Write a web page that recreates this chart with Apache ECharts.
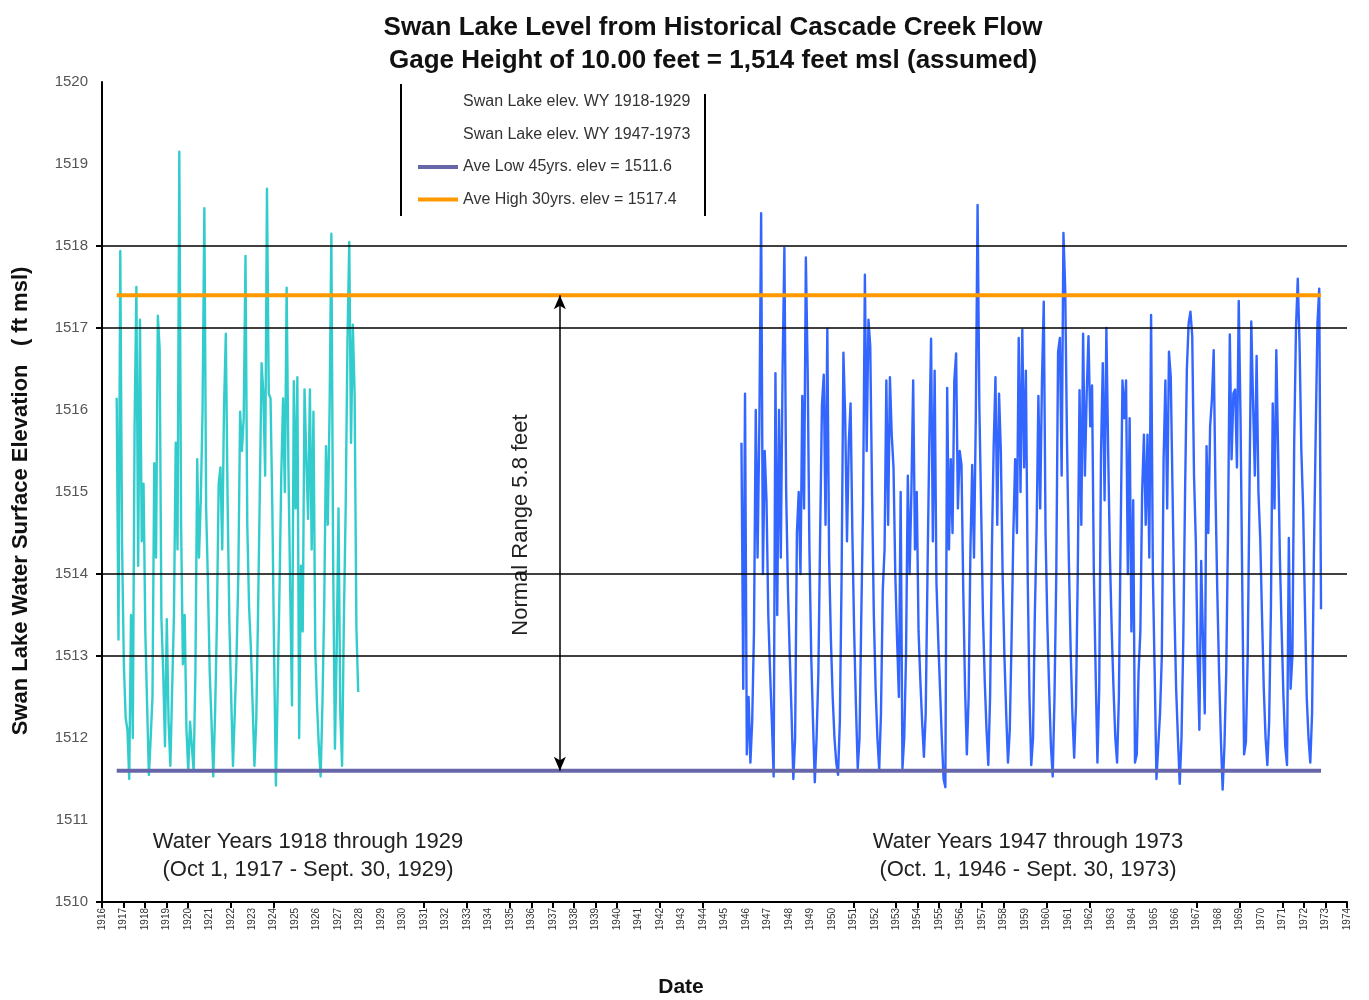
<!DOCTYPE html>
<html>
<head>
<meta charset="utf-8">
<title>Swan Lake Level</title>
<script src="https://cdn.jsdelivr.net/npm/echarts@6/dist/echarts.min.js"></script>
<style>
  html, body { margin: 0; padding: 0; background: #fff; }
  #chart { width: 1369px; height: 1000px; }
</style>
</head>
<body>
<div id="chart"></div>
<script>
// Year labels along the date axis
const yearLabels = [1916,1917,1918,1919,1920,1921,1922,1923,1924,1925,1926,1927,1928,1929,1930,
  1931,1932,1933,1934,1935,1936,1937,1938,1939,1940,1941,1942,1943,1944,1945,1946,1947,1948,1949,
  1950,1951,1952,1953,1954,1955,1956,1957,1958,1959,1960,1961,1962,1963,1964,1965,1966,1967,1968,
  1969,1970,1971,1972,1973,1974];
// Positions of the tick marks on the date axis
const dateTicks = [1916,1917,1918,1919,1920,1922,1924,1931,1933,1935,1936,1937,1938,1939,1940,
  1942,1944,1951,1953,1954,1955,1956,1957,1958,1960,1962,1967,1969,1971,1972,1973,1974];
// Elevation labels and ticks (ft msl)
const elevLabels = [1510,1511,1512,1513,1514,1515,1516,1517,1518,1519,1520];
const elevTicks = [1510,1513,1514,1517,1518];
const elevRules = [1513,1514,1517,1518];

// Monthly lake elevation, first record of each period on the date axis
const wy1918Start = 1916.685;
const wy1947Start = 1945.79;
const lakeWY1918_1929 = [
  1516.15,1513.2,1517.94,1514.35,1512.9,1512.25,1512.1,1511.5,1513.5,1512.0,1515.8,1517.5,
  1514.1,1517.1,1514.4,1515.1,1513.3,1512.4,1511.55,1512.0,1512.5,1515.35,1514.2,1517.15,
  1516.75,1513.45,1512.8,1511.9,1513.45,1512.2,1511.66,1512.6,1513.5,1515.6,1514.3,1519.15,
  1514.6,1512.9,1513.5,1512.1,1511.6,1512.2,1511.9,1511.6,1512.8,1515.4,1514.2,1514.9,
  1516.0,1518.46,1514.8,1513.9,1512.8,1512.2,1511.53,1512.3,1513.4,1515.1,1515.3,1514.3,
  1516.04,1516.93,1514.88,1513.4,1512.5,1511.66,1512.3,1513.0,1514.0,1515.98,1515.5,1515.9,
  1517.88,1514.6,1513.6,1513.1,1512.4,1511.66,1512.2,1513.5,1515.0,1516.57,1516.2,1515.2,
  1518.7,1516.2,1516.14,1514.8,1513.0,1511.42,1512.6,1513.8,1515.2,1516.14,1515.0,1517.49,
  1515.3,1513.8,1512.4,1516.35,1514.8,1516.4,1512.0,1514.1,1513.3,1516.25,1515.4,1514.67,
  1516.25,1514.3,1515.98,1513.1,1512.4,1511.9,1511.53,1512.4,1513.6,1515.56,1514.6,1515.98,
  1518.15,1514.14,1511.87,1513.1,1514.8,1512.3,1511.66,1513.45,1514.8,1516.83,1518.05,1515.6,
  1517.04,1516.2,1513.35,1512.56
];
const lakeWY1947_1973 = [
  1515.6,1512.6,1516.2,1511.8,1512.5,1511.7,1512.2,1513.3,1516.0,1514.2,1515.8,1518.4,
  1514.0,1515.5,1514.9,1513.5,1512.8,1512.2,1511.53,1516.45,1513.5,1516.0,1514.2,1516.5,
  1517.98,1515.0,1513.8,1513.0,1512.3,1511.5,1512.0,1514.5,1515.0,1514.0,1516.17,1514.8,
  1517.86,1516.5,1514.3,1513.0,1512.2,1511.46,1512.0,1512.8,1514.5,1516.06,1516.43,1514.6,
  1516.99,1514.2,1513.2,1512.5,1512.0,1511.7,1511.55,1512.2,1514.0,1516.7,1515.9,1514.4,
  1515.6,1516.08,1514.5,1513.3,1512.4,1511.63,1512.0,1513.5,1514.86,1517.65,1515.5,1517.1,
  1516.78,1515.0,1513.5,1512.6,1512.0,1511.62,1512.3,1513.8,1514.3,1516.36,1514.6,1516.4,
  1515.7,1515.3,1514.0,1513.2,1512.5,1515.0,1511.63,1512.0,1513.0,1515.2,1514.0,1515.0,
  1516.36,1514.3,1515.0,1513.3,1512.7,1512.2,1511.77,1512.3,1514.0,1515.6,1516.87,1514.4,
  1516.48,1513.9,1513.2,1512.6,1512.0,1511.5,1511.4,1516.27,1514.3,1515.4,1514.5,1516.36,
  1516.69,1514.8,1515.5,1515.33,1513.8,1512.6,1511.8,1512.5,1514.3,1515.33,1514.2,1515.9,
  1518.5,1516.03,1514.8,1513.5,1512.7,1512.1,1511.67,1512.5,1514.3,1515.56,1516.4,1514.6,
  1516.2,1515.5,1514.0,1513.0,1512.3,1511.7,1512.1,1513.2,1514.5,1515.4,1514.5,1516.88,
  1515.0,1516.98,1515.3,1516.48,1514.0,1512.5,1511.67,1512.0,1513.5,1514.53,1516.17,1514.8,
  1516.36,1517.32,1514.5,1513.4,1512.6,1511.9,1511.53,1512.5,1514.0,1516.71,1516.88,1515.2,
  1518.16,1517.46,1515.6,1514.2,1513.1,1512.3,1511.76,1512.4,1514.0,1516.24,1514.6,1516.93,
  1515.2,1516.2,1516.9,1515.8,1516.3,1514.0,1512.8,1511.7,1512.6,1515.47,1516.57,1514.9,
  1517.0,1515.5,1514.2,1513.3,1512.6,1512.0,1511.7,1512.5,1514.5,1516.36,1515.9,1516.36,
  1514.0,1515.9,1513.3,1514.9,1511.7,1511.8,1512.8,1513.3,1515.0,1515.7,1514.6,1515.7,
  1514.2,1517.16,1514.0,1512.8,1511.5,1511.9,1512.3,1513.0,1515.4,1516.36,1514.8,1516.71,
  1516.4,1515.0,1513.6,1512.6,1512.0,1511.44,1512.0,1513.2,1515.0,1516.5,1517.06,1517.2,
  1516.9,1515.2,1514.4,1513.0,1512.1,1514.16,1513.2,1512.3,1515.56,1514.5,1515.8,1516.13,
  1516.73,1515.0,1513.8,1512.8,1512.0,1511.37,1511.9,1512.8,1514.5,1516.92,1515.4,1516.2,
  1516.25,1515.3,1517.33,1515.9,1513.8,1511.8,1511.95,1513.0,1515.0,1517.08,1516.1,1515.2,
  1516.66,1515.0,1514.44,1513.5,1512.6,1512.0,1511.67,1512.2,1513.6,1516.08,1514.8,1516.73,
  1515.5,1514.2,1513.3,1512.5,1511.9,1511.67,1514.44,1512.6,1513.0,1515.6,1517.0,1517.6,
  1516.8,1515.5,1514.8,1513.6,1512.5,1512.0,1511.7,1512.3,1514.2,1515.68,1517.05,1517.48,
  1513.57
];

// Long-term averages (ft msl)
const aveLowElev = 1511.6;
const aveHighElev = 1517.4;
// Date-axis position of the normal-range arrow
const rangeArrowYear = 1937.33;

const FONT = "'Liberation Sans', Arial, sans-serif";
const monthly = (start, values) => values.map((v, i) => [start + i / 12, v]);

const cyanSeries = monthly(wy1918Start, lakeWY1918_1929);
const blueSeries = monthly(wy1947Start, lakeWY1947_1973);
const spanStart = cyanSeries[0][0];
const spanEnd = blueSeries[blueSeries.length - 1][0];

const chart = echarts.init(document.getElementById('chart'), null, { renderer: 'canvas' });

chart.setOption({
  animation: false,
  backgroundColor: '#ffffff',
  title: {
    text: 'Swan Lake Level from Historical Cascade Creek Flow\nGage Height of 10.00 feet = 1,514 feet msl (assumed)',
    left: 708,
    top: 6,
    textAlign: 'center',
    textStyle: { fontFamily: FONT, fontSize: 26, fontWeight: 'bold', color: '#111', lineHeight: 33 }
  },
  legend: {
    orient: 'vertical',
    left: 413,
    top: 89,
    icon: 'rect',
    itemWidth: 40,
    itemHeight: 4,
    itemGap: 16.5,
    textStyle: { fontFamily: FONT, fontSize: 16, color: '#333' },
    data: [
      { name: 'Swan Lake elev. WY 1918-1929', itemStyle: { opacity: 0 } },
      { name: 'Swan Lake elev. WY 1947-1973', itemStyle: { opacity: 0 } },
      { name: 'Ave Low 45yrs. elev = 1511.6' },
      { name: 'Ave High 30yrs. elev = 1517.4' }
    ]
  },
  grid: { left: 102, right: 22, top: 82, bottom: 98, containLabel: false },
  xAxis: {
    type: 'value',
    min: 1916,
    max: 1974,
    interval: 1,
    axisLine: { show: true, lineStyle: { color: '#000', width: 2 } },
    axisTick: { show: true, length: 6, customValues: dateTicks, lineStyle: { color: '#000', width: 2 } },
    axisLabel: {
      customValues: yearLabels,
      rotate: 90,
      margin: 6,
      fontFamily: FONT,
      fontSize: 10,
      color: '#333',
      formatter: v => String(v)
    },
    splitLine: { show: false }
  },
  yAxis: {
    type: 'value',
    min: 1510,
    max: 1520,
    interval: 1,
    name: 'Swan Lake Water Surface Elevation   ( ft msl)',
    nameLocation: 'middle',
    nameRotate: 90,
    nameGap: 70,
    nameTextStyle: { fontFamily: FONT, fontSize: 22, fontWeight: 'bold', color: '#111', padding: [0, 18, 0, 0] },
    axisLine: { show: true, lineStyle: { color: '#000', width: 2 } },
    axisTick: { show: true, length: 6, customValues: elevTicks, lineStyle: { color: '#000', width: 2 } },
    axisLabel: {
      customValues: elevLabels,
      margin: 14,
      fontFamily: FONT,
      fontSize: 15,
      color: '#555',
      formatter: v => String(v)
    },
    splitLine: { show: false }
  },
  series: [
    {
      name: 'elevation rules',
      type: 'line',
      data: [],
      z: 1,
      silent: true,
      markLine: {
        silent: true,
        symbol: 'none',
        label: { show: false },
        lineStyle: { color: '#000', width: 1.6, type: 'solid' },
        data: elevRules.map(v => ({ yAxis: v }))
      }
    },
    {
      name: 'Swan Lake elev. WY 1918-1929',
      type: 'line',
      data: cyanSeries,
      showSymbol: false,
      z: 3,
      lineStyle: { color: '#33cccc', width: 2.4, join: 'round' },
      itemStyle: { color: '#33cccc' }
    },
    {
      name: 'Swan Lake elev. WY 1947-1973',
      type: 'line',
      data: blueSeries,
      showSymbol: false,
      z: 3,
      lineStyle: { color: '#3366ff', width: 2.4, join: 'round' },
      itemStyle: { color: '#3366ff' }
    },
    {
      name: 'Ave Low 45yrs. elev = 1511.6',
      type: 'line',
      data: [[spanStart, aveLowElev], [spanEnd, aveLowElev]],
      showSymbol: false,
      z: 4,
      lineStyle: { color: '#6666a8', width: 4 },
      itemStyle: { color: '#6666a8' }
    },
    {
      name: 'Ave High 30yrs. elev = 1517.4',
      type: 'line',
      data: [[spanStart, aveHighElev], [spanEnd, aveHighElev]],
      showSymbol: false,
      z: 4,
      lineStyle: { color: '#ff9900', width: 4 },
      itemStyle: { color: '#ff9900' }
    },
    {
      name: 'normal range',
      type: 'line',
      data: [],
      z: 5,
      silent: true,
      markLine: {
        silent: true,
        symbol: ['arrow', 'arrow'],
        symbolSize: [9, 14],
        label: { show: false },
        lineStyle: { color: '#000', width: 1.5, type: 'solid' },
        data: [[
          { coord: [rangeArrowYear, aveHighElev] },
          { coord: [rangeArrowYear, aveLowElev] }
        ]]
      }
    }
  ],
  graphic: [
    // legend frame
    { type: 'line', shape: { x1: 401, y1: 84, x2: 401, y2: 216 }, style: { stroke: '#000', lineWidth: 2 } },
    { type: 'line', shape: { x1: 705, y1: 94, x2: 705, y2: 216 }, style: { stroke: '#000', lineWidth: 2 } },
    {
      type: 'text', x: 521, y: 525, rotation: Math.PI / 2,
      style: { text: 'Normal Range 5.8 feet', font: '22px ' + FONT, fill: '#222', align: 'center', verticalAlign: 'middle' }
    },
    {
      type: 'text', x: 308, y: 842,
      style: { text: 'Water Years 1918 through 1929', font: '22px ' + FONT, fill: '#222', align: 'center', verticalAlign: 'middle' }
    },
    {
      type: 'text', x: 308, y: 870,
      style: { text: '(Oct 1, 1917 - Sept. 30, 1929)', font: '22px ' + FONT, fill: '#222', align: 'center', verticalAlign: 'middle' }
    },
    {
      type: 'text', x: 1028, y: 842,
      style: { text: 'Water Years 1947 through 1973', font: '22px ' + FONT, fill: '#222', align: 'center', verticalAlign: 'middle' }
    },
    {
      type: 'text', x: 1028, y: 870,
      style: { text: '(Oct. 1, 1946 - Sept. 30, 1973)', font: '22px ' + FONT, fill: '#222', align: 'center', verticalAlign: 'middle' }
    },
    {
      type: 'text', x: 681, y: 987,
      style: { text: 'Date', font: 'bold 21px ' + FONT, fill: '#111', align: 'center', verticalAlign: 'middle' }
    }
  ]
});
</script>
</body>
</html>
